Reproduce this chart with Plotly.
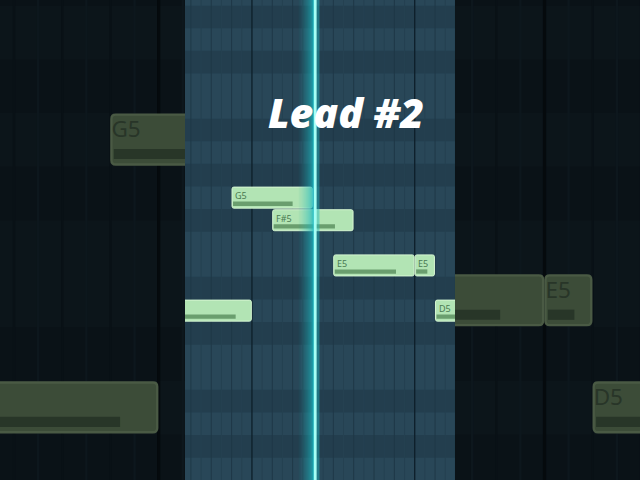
import plotly.graph_objects as go

# lead notes as they sit in the piano roll (x in 1/16 steps, y in midi numbers)
note_names = ["D5", "G5", "F#5", "E5", "E5", "D5"]
note_pitch = [74, 79, 78, 76, 76, 74]
note_start = [-4, -1, 1, 4, 8, 9]
note_length = [4, 4, 4, 4, 1, 4]
note_velocity = [0.8, 0.75, 0.77, 0.77, 0.62, 0.76]

playhead = 3.1
title = "Lead #2"

# visible window of the roll, the blurred backdrop is the same roll blown up
step_view = [-3.29, 9.98]
pitch_view = [66.51, 87.75]
zoom = 640 / 270
panel = [185 / 640, 455 / 640]
black_keys = {1, 3, 6, 8, 10}

sharp = dict(bg=(41, 71, 88), key=(35, 62, 78), half=(37, 65, 81), step=(31, 56, 71),
             bar=(15, 33, 44), note=(178, 228, 180), edge=(214, 246, 210),
             vel=(106, 158, 110), label=(74, 122, 82), glow=(28, 185, 195),
             core=(165, 255, 245))
blurred = dict(bg=(12, 21, 26), key=(10, 18, 23), half=(13, 23, 29), step=(9, 17, 22),
               bar=(5, 10, 13), note=(60, 76, 56), edge=(74, 90, 68),
               vel=(40, 54, 40), label=(40, 53, 40), glow=(8, 58, 60),
               core=(50, 76, 73))


def rgb(c, a=None):
    if a is None:
        return "rgb(%d,%d,%d)" % c
    return "rgba(%d,%d,%d,%.3f)" % (c + (a,))


def rounded(x0, x1, y0, y1, rx, ry):
    return (f"M{x0 + rx},{y0} L{x1 - rx},{y0} Q{x1},{y0} {x1},{y0 + ry} "
            f"L{x1},{y1 - ry} Q{x1},{y1} {x1 - rx},{y1} L{x0 + rx},{y1} "
            f"Q{x0},{y1} {x0},{y1 - ry} L{x0},{y0 + ry} Q{x0},{y0} {x0 + rx},{y0} Z")


def roll_shapes(xr, yr, prange, pal, lw, layer):
    shapes = []
    xa, xb = step_view[0] - 1, step_view[1] + 1
    ya, yb = prange[0] - 1, prange[1] + 1

    def add(**kw):
        kw.update(xref=xr, yref=yr, layer=layer)
        shapes.append(kw)

    add(type="rect", x0=xa, x1=xb, y0=ya, y1=yb, fillcolor=rgb(pal["bg"]), line_width=0)

    # darker rows for the black keys
    for p in range(int(ya), int(yb) + 1):
        if p % 12 in black_keys:
            add(type="rect", x0=xa, x1=xb, y0=p - 0.5, y1=p + 0.5,
                fillcolor=rgb(pal["key"]), line_width=0)

    # grid: half steps, steps, bars
    for i in range(int(2 * xa), int(2 * xb) + 1):
        if i % 16 == 0:
            col, w = pal["bar"], 1.4
        elif i % 2 == 0:
            col, w = pal["step"], 1
        else:
            col, w = pal["half"], 1
        add(type="line", x0=i / 2, x1=i / 2, y0=ya, y1=yb,
            line=dict(color=rgb(col), width=w * lw))

    # notes with their velocity bar
    for p, s, n, v in zip(note_pitch, note_start, note_length, note_velocity):
        add(type="path", path=rounded(s + 0.02, s + n - 0.03, p - 0.46, p + 0.47, 0.09, 0.08),
            fillcolor=rgb(pal["note"]), line=dict(color=rgb(pal["edge"]), width=lw))
        add(type="rect", x0=s + 0.07, x1=s + v * n, y0=p - 0.36, y1=p - 0.17,
            fillcolor=rgb(pal["vel"]), line_width=0)

    # playhead with its trail
    k = 14
    for j in range(k):
        x0 = playhead - 0.8 + j * 0.75 / k
        add(type="rect", x0=x0, x1=x0 + 0.75 / k, y0=ya, y1=yb, line_width=0,
            fillcolor=rgb(pal["glow"], 0.05 + 0.85 * ((j + 1) / k) ** 1.6))
    add(type="rect", x0=playhead + 0.06, x1=playhead + 0.22, y0=ya, y1=yb, line_width=0,
        fillcolor=rgb(pal["glow"], 0.45))
    add(type="rect", x0=playhead - 0.06, x1=playhead + 0.08, y0=ya, y1=yb, line_width=0,
        fillcolor=rgb(pal["core"]))
    return shapes


half = (pitch_view[1] - pitch_view[0]) / 2 / zoom
mid = (pitch_view[1] + pitch_view[0]) / 2
back_view = [mid - half, mid + half]

# only the backdrop labels that peek out beside the sharp roll
span = step_view[1] - step_view[0]
bx, by, bt = [], [], []
for name, p, s in zip(note_names, note_pitch, note_start):
    fx = (s + 0.12 - step_view[0]) / span
    if 0 <= fx < panel[0] or panel[1] < fx <= 1:
        bx.append(s + 0.02)
        by.append(p + 0.36)
        bt.append(name)

fig = go.Figure()
fig.add_trace(go.Scatter(
    x=bx, y=by, text=bt, mode="text", textposition="bottom right",
    textfont=dict(family="Noto Sans", size=9.5 * zoom, color=rgb(blurred["label"])),
    hoverinfo="skip", showlegend=False, xaxis="x", yaxis="y"))
fig.add_trace(go.Scatter(x=[0], y=[70], mode="markers", marker=dict(opacity=0),
                         hoverinfo="skip", showlegend=False, xaxis="x2", yaxis="y2"))

shapes = roll_shapes("x", "y", back_view, blurred, zoom, "below")
shapes += roll_shapes("x2", "y2", pitch_view, sharp, 1, "above")

annotations = []
for name, p, s in zip(note_names, note_pitch, note_start):
    annotations.append(dict(x=s + 0.08, y=p + 0.47, xref="x2", yref="y2", text=name,
                            showarrow=False, xanchor="left", yanchor="top",
                            font=dict(family="Noto Sans", size=9, color=rgb(sharp["label"]))))
annotations.append(dict(x=346 / 640, y=1 - 112 / 480, xref="paper", yref="paper", text=title,
                        showarrow=False, xanchor="center", yanchor="middle",
                        font=dict(family="Open Sans", size=41, weight=800, style="italic",
                                  color="white")))

fig.update_layout(
    width=640, height=480, margin=dict(l=0, r=0, t=0, b=0),
    paper_bgcolor=rgb(blurred["bg"]), plot_bgcolor="rgba(0,0,0,0)",
    shapes=shapes, annotations=annotations, showlegend=False,
    xaxis=dict(domain=[0, 1], range=step_view, visible=False, anchor="y"),
    yaxis=dict(domain=[0, 1], range=back_view, visible=False, anchor="x"),
    xaxis2=dict(domain=panel, range=step_view, visible=False, anchor="y2"),
    yaxis2=dict(domain=[0, 1], range=pitch_view, visible=False, anchor="x2"),
)

fig.write_html("out.html", config={"displayModeBar": False},
               post_script="document.body.style.margin='0';")
